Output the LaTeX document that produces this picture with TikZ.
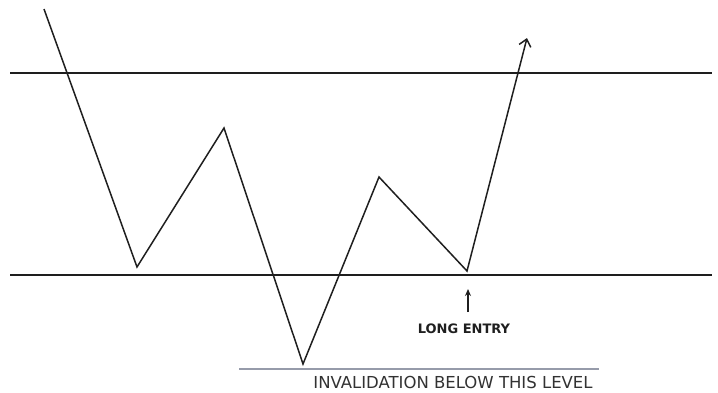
\documentclass[tikz,border=0pt]{standalone}
\usepackage{fontspec}
\usepackage{xcolor}
\usepackage{tikz}
\usetikzlibrary{arrows.meta, positioning}
\setmainfont{DejaVu Sans}
\definecolor{levelgray}{RGB}{30, 30, 30}
\definecolor{invalgray}{RGB}{150, 155, 170}
\definecolor{textgray}{RGB}{50, 50, 50}
\tikzstyle{level} = [draw=levelgray, line width=1.5pt]
\tikzstyle{price} = [draw=black!88, line width=1.5pt, line join=miter]
\tikzstyle{label} = [font=\fontsize{16.5}{18}\selectfont, text=textgray, inner sep=0pt]
\tikzstyle{arrow} = [-{Stealth[length=7pt, width=6pt]}, line width=2.4pt]

\begin{document}
\begin{tikzpicture}[x=1pt, y=-1pt]
    \useasboundingbox (0, 0) rectangle (718, 392);
    % Support and resistance levels
    \coordinate (resL) at (10, 73);
    \coordinate (resR) at (712, 73);
    \coordinate (supL) at (10, 275);
    \coordinate (supR) at (712, 275);
    \draw[level] (resL) -- (resR);
    \draw[level] (supL) -- (supR);

    % Price swings
    \coordinate (p0) at (44, 9);
    \coordinate (p1) at (137, 267);
    \coordinate (p2) at (224, 128);
    \coordinate (p3) at (303, 364);
    \coordinate (p4) at (379, 177);
    \coordinate (p5) at (467, 271);
    \coordinate (p6) at (527, 38);
    \draw[price, -{Straight Barb[length=7pt, width=12pt]}] (p0) -- (p1) -- (p2) -- (p3) -- (p4) -- (p5) -- (p6);

    % Entry marker
    \node[label, font=\bfseries\fontsize{13}{15}\selectfont, text=black!88, anchor=base] (entry) at (464, 333) {LONG ENTRY};
    \coordinate (entrytip) at (468, 289);
    \coordinate (entrybase) at (468, 312);
    \draw[arrow, black!88] (entrybase) -- (entrytip);

    % Invalidation level
    \coordinate (invL) at (239, 369);
    \coordinate (invR) at (599, 369);
    \draw[draw=invalgray, line width=1.2pt] (invL) -- (invR);
    \node[label, anchor=base] (inval) at (453, 388) {INVALIDATION BELOW THIS LEVEL};
\end{tikzpicture}
\end{document}
